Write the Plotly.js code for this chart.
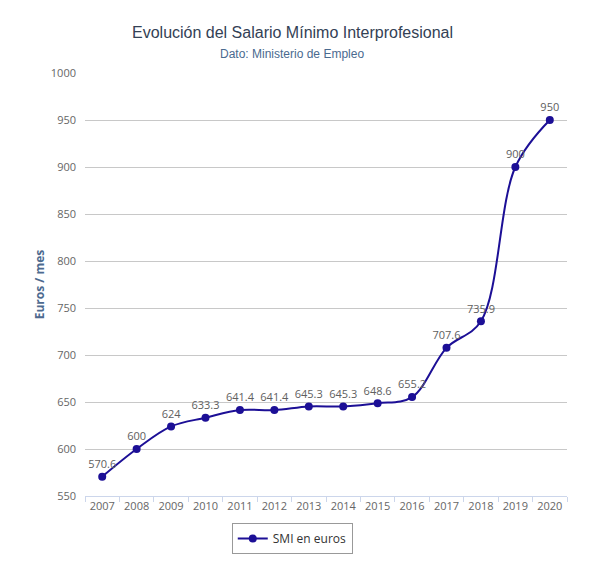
<!DOCTYPE html>
<html><head><meta charset="utf-8">
<script src="https://cdn.plot.ly/plotly-3.0.1.min.js"></script>
<style>body{margin:0;background:#fff}#c{width:596px;height:568px}</style>
</head><body><div id="c"></div>
<script>
const years = ["2007","2008","2009","2010","2011","2012","2013","2014","2015","2016","2017","2018","2019","2020"];
const smi = [570.6, 600, 624, 633.3, 641.4, 641.4, 645.3, 645.3, 648.6, 655.2, 707.6, 735.9, 900, 950];
const seriesName = "SMI en euros";
const labels = smi.map(v => String(v));

const trace = {
  x: years, y: smi, type: "scatter", mode: "lines+markers+text",
  name: seriesName, text: labels, textposition: "top center",
  textfont: {family: "Open Sans, DejaVu Sans, sans-serif", size: 11, color: "#606060"},
  line: {color: "#1c0f96", width: 2, shape: "spline", smoothing: 1.0},
  marker: {color: "#1c0f96", size: 8}, cliponaxis: false
};
const layout = {
  width: 596, height: 568,
  margin: {l: 85, r: 29, t: 73, b: 72},
  paper_bgcolor: "#fff", plot_bgcolor: "#fff",
  font: {family: "Open Sans, DejaVu Sans, sans-serif", color: "#666"},
  annotations: [
    {text: "Evolución del Salario Mínimo Interprofesional", xref: "paper", yref: "paper",
     x: 0.43, y: 1, yanchor: "middle", yshift: 41, showarrow: false, font: {size: 16, color: "#334155", family: "Liberation Sans, Arial, sans-serif"}},
    {text: "Dato: Ministerio de Empleo", xref: "paper", yref: "paper",
     x: 0.43, y: 1, yanchor: "middle", yshift: 19, showarrow: false, font: {size: 12, color: "#4a6a8f", family: "Liberation Sans, Arial, sans-serif"}}
  ],
  xaxis: {
    type: "category", range: [-0.5, 13.5], fixedrange: true, tickangle: 0,
    showgrid: false, zeroline: false, showline: true, linecolor: "#ccd6eb", linewidth: 1,
    ticks: "outside", tickson: "boundaries", ticklen: 5, tickcolor: "#ccd6eb",
    tickfont: {size: 11, color: "#666"}
  },
  yaxis: {
    range: [550, 1000], dtick: 50, tick0: 550, showgrid: true, gridcolor: "#c8c8c8",
    zeroline: false, showline: false, ticks: "", ticklabelstandoff: 8,
    tickfont: {size: 11, color: "#666"},
    title: {text: "<b>Euros / mes</b>", font: {size: 12, color: "#4d6a8f"}, standoff: 3}
  },
  showlegend: true,
  legend: {orientation: "h", x: 0.43, xanchor: "center", y: -0.064, yanchor: "top",
    bordercolor: "#999", borderwidth: 1, font: {size: 12, color: "#333"}, bgcolor: "#fff"}
};
Plotly.newPlot("c", [trace], layout, {displayModeBar: false, staticPlot: true});
</script></body></html>
